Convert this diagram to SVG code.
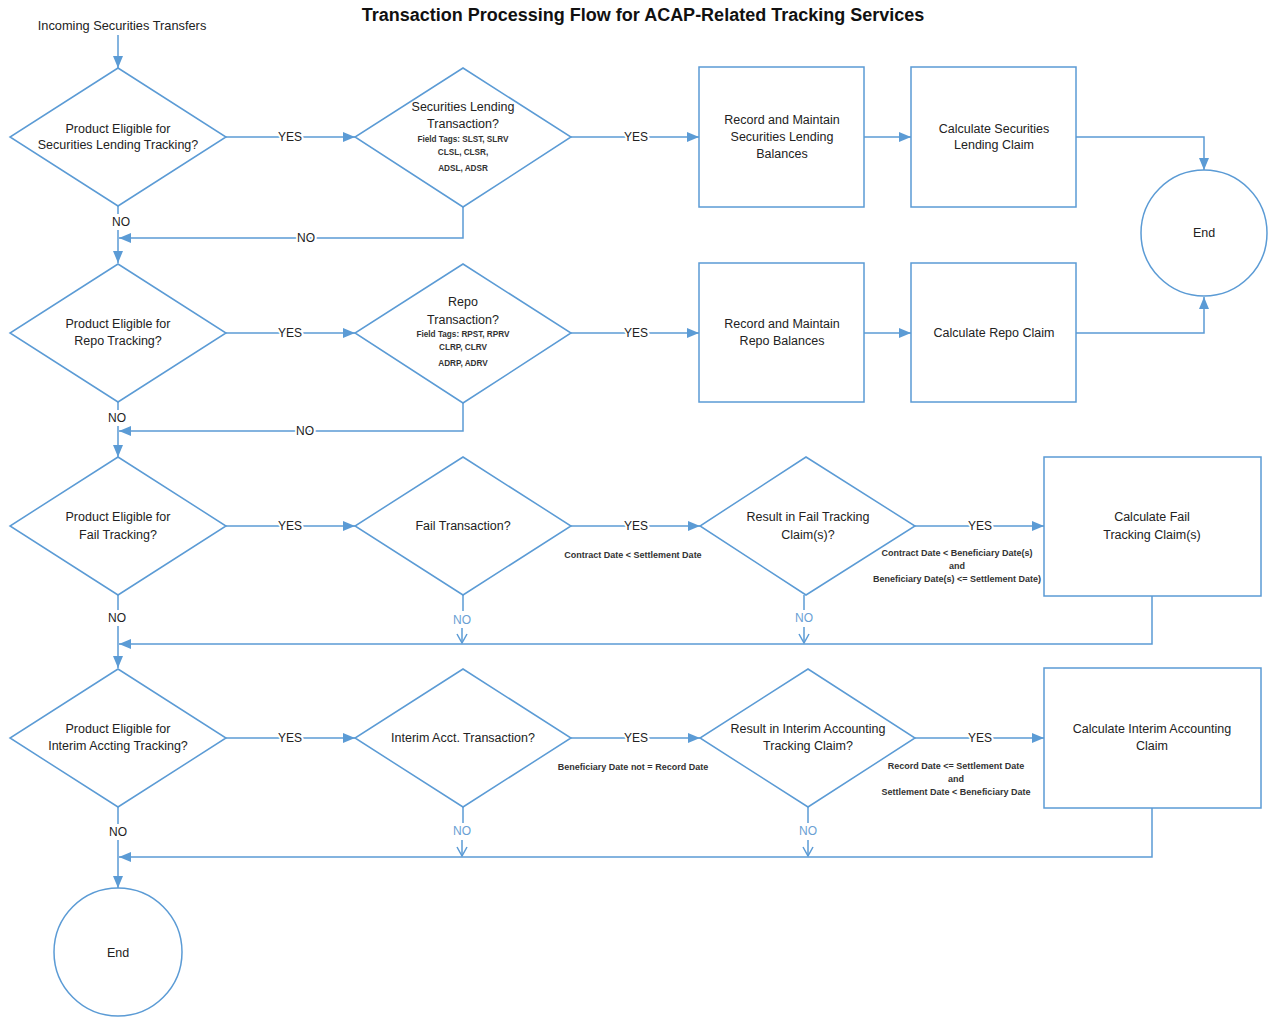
<svg xmlns="http://www.w3.org/2000/svg" width="1268" height="1017" viewBox="0 0 1268 1017">
<defs>
<marker id="arr" markerWidth="12" markerHeight="10" refX="12" refY="5" orient="auto" markerUnits="userSpaceOnUse"><path d="M0,0 L12,5 L0,10 Z" fill="#5B9BD5"/></marker>
<marker id="open" markerWidth="12" markerHeight="12" refX="10" refY="6" orient="auto" markerUnits="userSpaceOnUse"><path d="M1,1 L10,6 L1,11" fill="none" stroke="#5B9BD5" stroke-width="1.5"/></marker>
<style>
.s{fill:#fff;stroke:#5B9BD5;stroke-width:1.5}
.l{fill:none;stroke:#5B9BD5;stroke-width:1.5}
.t{font-family:"Liberation Sans",Arial,sans-serif;font-size:12.5px;fill:#222;text-anchor:middle;dominant-baseline:central}
.sm{font-family:"Liberation Sans",Arial,sans-serif;font-size:9px;font-weight:bold;fill:#333;text-anchor:middle;dominant-baseline:central}
.ft{font-family:"Liberation Sans",Arial,sans-serif;font-size:8.2px;font-weight:bold;fill:#333;text-anchor:middle;dominant-baseline:central}
.lb{font-family:"Liberation Sans",Arial,sans-serif;font-size:12px;fill:#222;text-anchor:middle;dominant-baseline:central;stroke:#fff;stroke-width:4;paint-order:stroke}
.bl{font-family:"Liberation Sans",Arial,sans-serif;font-size:12px;fill:#6A9FD4;text-anchor:middle;dominant-baseline:central}
.ti{font-family:"Liberation Sans",Arial,sans-serif;font-size:18px;font-weight:bold;fill:#111;text-anchor:middle;dominant-baseline:central}
</style>
</defs>
<rect width="1268" height="1017" fill="#fff"/>
<text class="ti" x="643" y="15">Transaction Processing Flow for ACAP-Related Tracking Services</text>
<text class="t" x="122" y="25" style="font-size:12.8px">Incoming Securities Transfers</text>

<g id="connectors">
<path class="l" d="M118,35 V68" marker-end="url(#arr)"/>
<!-- row 1 -->
<path class="l" d="M226,137 H355" marker-end="url(#arr)"/>
<path class="l" d="M571,137 H699" marker-end="url(#arr)"/>
<path class="l" d="M864,137 H911" marker-end="url(#arr)"/>
<path class="l" d="M1076,137 H1204 V170" marker-end="url(#arr)"/>
<path class="l" d="M118,206 V214 M118,230 V263" marker-end="url(#arr)"/>
<path class="l" d="M463,207 V238 H119" marker-end="url(#arr)"/>
<!-- row 2 -->
<path class="l" d="M226,333 H355" marker-end="url(#arr)"/>
<path class="l" d="M571,333 H699" marker-end="url(#arr)"/>
<path class="l" d="M864,333 H911" marker-end="url(#arr)"/>
<path class="l" d="M1076,333 H1204 V297" marker-end="url(#arr)"/>
<path class="l" d="M118,402 V410 M118,426 V457" marker-end="url(#arr)"/>
<path class="l" d="M463,403 V431 H119" marker-end="url(#arr)"/>
<!-- row 3 -->
<path class="l" d="M226,526 H355" marker-end="url(#arr)"/>
<path class="l" d="M571,526 H700" marker-end="url(#arr)"/>
<path class="l" d="M915,526 H1044" marker-end="url(#arr)"/>
<path class="l" d="M118,595 V610 M118,626 V668" marker-end="url(#arr)"/>
<path class="l" d="M463,595 V611"/>
<path class="l" d="M462,628 V643" marker-end="url(#open)"/>
<path class="l" d="M804,595 V610"/>
<path class="l" d="M804,627 V643" marker-end="url(#open)"/>
<path class="l" d="M1152,596 V644 H119" marker-end="url(#arr)"/>
<!-- row 4 -->
<path class="l" d="M226,738 H355" marker-end="url(#arr)"/>
<path class="l" d="M571,738 H700" marker-end="url(#arr)"/>
<path class="l" d="M915,738 H1044" marker-end="url(#arr)"/>
<path class="l" d="M118,807 V824 M118,840 V888" marker-end="url(#arr)"/>
<path class="l" d="M463,807 V823"/>
<path class="l" d="M462,840 V856" marker-end="url(#open)"/>
<path class="l" d="M808,807 V823"/>
<path class="l" d="M808,840 V856" marker-end="url(#open)"/>
<path class="l" d="M1152,808 V857 H119" marker-end="url(#arr)"/>

<text class="lb" x="290" y="137">YES</text>
<text class="lb" x="636" y="137">YES</text>
<text class="lb" x="121" y="222">NO</text>
<text class="lb" x="306" y="238">NO</text>
<text class="lb" x="290" y="333">YES</text>
<text class="lb" x="636" y="333">YES</text>
<text class="lb" x="117" y="418">NO</text>
<text class="lb" x="305" y="431">NO</text>
<text class="lb" x="290" y="526">YES</text>
<text class="lb" x="636" y="526">YES</text>
<text class="lb" x="980" y="526">YES</text>
<text class="lb" x="117" y="618">NO</text>
<text class="bl" x="462" y="620">NO</text>
<text class="bl" x="804" y="618">NO</text>
<text class="lb" x="290" y="738">YES</text>
<text class="lb" x="636" y="738">YES</text>
<text class="lb" x="980" y="738">YES</text>
<text class="lb" x="118" y="832">NO</text>
<text class="bl" x="462" y="831">NO</text>
<text class="bl" x="808" y="831">NO</text>

<text class="sm" x="633" y="555">Contract Date &lt; Settlement Date</text>
<text class="sm" x="957" y="553">Contract Date &lt; Beneficiary Date(s)</text>
<text class="sm" x="957" y="566">and</text>
<text class="sm" x="957" y="579">Beneficiary Date(s) &lt;= Settlement Date)</text>
<text class="sm" x="633" y="767">Beneficiary Date not = Record Date</text>
<text class="sm" x="956" y="766">Record Date &lt;= Settlement Date</text>
<text class="sm" x="956" y="779">and</text>
<text class="sm" x="956" y="792">Settlement Date &lt; Beneficiary Date</text>
</g>

<g id="d1_sl">
<polygon class="s" points="118,68 226,137 118,206 10,137"/>
<text class="t" x="118" y="129">Product Eligible for</text>
<text class="t" x="118" y="145">Securities Lending Tracking?</text>
</g>
<g id="d2_sl">
<polygon class="s" points="463,68 571,137 463,207 355,137"/>
<text class="t" x="463" y="107">Securities Lending</text>
<text class="t" x="463" y="124">Transaction?</text>
<text class="ft" x="463" y="139">Field Tags: SLST, SLRV</text>
<text class="ft" x="463" y="152">CLSL, CLSR,</text>
<text class="ft" x="463" y="168">ADSL, ADSR</text>
</g>
<g id="r1_sl">
<rect class="s" x="699" y="67" width="165" height="140"/>
<text class="t" x="782" y="120">Record and Maintain</text>
<text class="t" x="782" y="137">Securities Lending</text>
<text class="t" x="782" y="154">Balances</text>
</g>
<g id="r2_sl">
<rect class="s" x="911" y="67" width="165" height="140"/>
<text class="t" x="994" y="129">Calculate Securities</text>
<text class="t" x="994" y="145">Lending Claim</text>
</g>
<g id="end1">
<circle class="s" cx="1204" cy="233" r="63"/>
<text class="t" x="1204" y="233">End</text>
</g>

<g id="d1_repo">
<polygon class="s" points="118,264 226,333 118,402 10,333"/>
<text class="t" x="118" y="324">Product Eligible for</text>
<text class="t" x="118" y="341">Repo Tracking?</text>
</g>
<g id="d2_repo">
<polygon class="s" points="463,264 571,333 463,403 355,333"/>
<text class="t" x="463" y="302">Repo</text>
<text class="t" x="463" y="320">Transaction?</text>
<text class="ft" x="463" y="334">Field Tags: RPST, RPRV</text>
<text class="ft" x="463" y="347">CLRP, CLRV</text>
<text class="ft" x="463" y="363">ADRP, ADRV</text>
</g>
<g id="r1_repo">
<rect class="s" x="699" y="263" width="165" height="139"/>
<text class="t" x="782" y="324">Record and Maintain</text>
<text class="t" x="782" y="341">Repo Balances</text>
</g>
<g id="r2_repo">
<rect class="s" x="911" y="263" width="165" height="139"/>
<text class="t" x="994" y="333">Calculate Repo Claim</text>
</g>

<g id="d1_fail">
<polygon class="s" points="118,457 226,526 118,595 10,526"/>
<text class="t" x="118" y="517">Product Eligible for</text>
<text class="t" x="118" y="535">Fail Tracking?</text>
</g>
<g id="d2_fail">
<polygon class="s" points="463,457 571,526 463,595 355,526"/>
<text class="t" x="463" y="526">Fail Transaction?</text>
</g>
<g id="d3_fail">
<polygon class="s" points="806,457 915,526 806,595 700,526"/>
<text class="t" x="808" y="517">Result in Fail Tracking</text>
<text class="t" x="808" y="535">Claim(s)?</text>
</g>
<g id="r_fail">
<rect class="s" x="1044" y="457" width="217" height="139"/>
<text class="t" x="1152" y="517">Calculate Fail</text>
<text class="t" x="1152" y="535">Tracking Claim(s)</text>
</g>

<g id="d1_int">
<polygon class="s" points="118,669 226,738 118,807 10,738"/>
<text class="t" x="118" y="729">Product Eligible for</text>
<text class="t" x="118" y="746">Interim Accting Tracking?</text>
</g>
<g id="d2_int">
<polygon class="s" points="463,669 571,738 463,807 355,738"/>
<text class="t" x="463" y="738">Interim Acct. Transaction?</text>
</g>
<g id="d3_int">
<polygon class="s" points="808,669 915,738 808,807 700,738"/>
<text class="t" x="808" y="729">Result in Interim Accounting</text>
<text class="t" x="808" y="746">Tracking Claim?</text>
</g>
<g id="r_int">
<rect class="s" x="1044" y="668" width="217" height="140"/>
<text class="t" x="1152" y="729">Calculate Interim Accounting</text>
<text class="t" x="1152" y="746">Claim</text>
</g>
<g id="end2">
<circle class="s" cx="118" cy="952" r="64"/>
<text class="t" x="118" y="953">End</text>
</g>
</svg>
